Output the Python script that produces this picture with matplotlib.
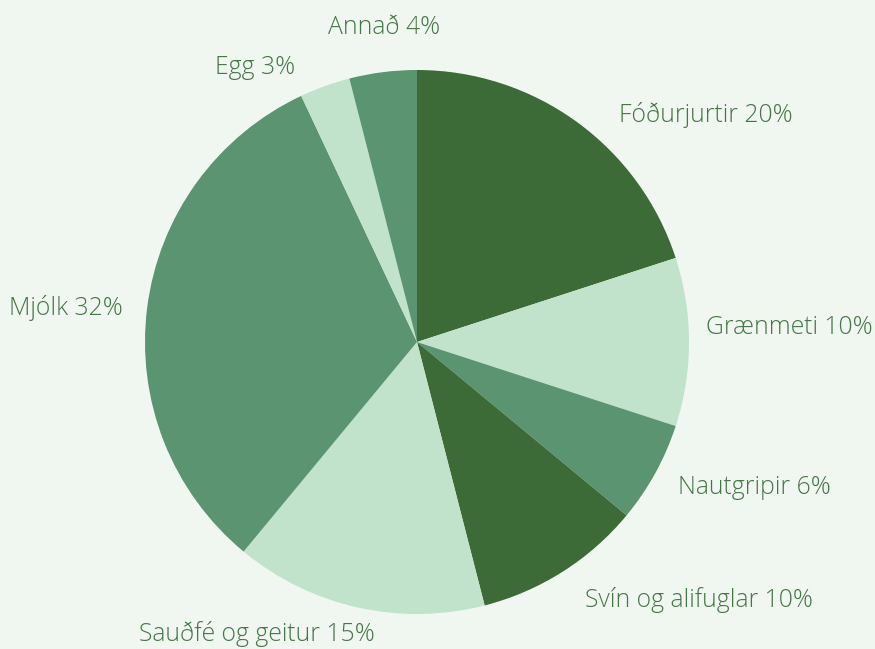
import matplotlib
matplotlib.use("Agg")
import matplotlib.pyplot as plt

labels = ["Fóðurjurtir", "Grænmeti", "Nautgripir", "Svín og alifuglar",
          "Sauðfé og geitur", "Mjólk", "Egg", "Annað"]
values = [20, 10, 6, 10, 15, 32, 3, 4]
colors = ["#3d6b38", "#c1e2cb", "#5a9470", "#3d6b38",
          "#c1e2cb", "#5a9470", "#c1e2cb", "#5a9470"]

# label anchors in image pixels (x, y from top, horizontal alignment)
label_pos = [(619, 115, "left"), (706, 328, "left"), (678, 488, "left"),
             (585, 600, "left"), (375, 634, "right"), (123, 308, "right"),
             (295, 67, "right"), (440, 28, "right")]

bg = "#f0f7f0"
text_color = "#467646"

W, H = 875, 649
cx, cy, r = 417, 342, 272

fig = plt.figure(figsize=(W / 100, H / 100), dpi=100, facecolor=bg)
# axes placed so that a unit pie has radius r px centred at (cx, cy)
xl, yl = 1.5, 1.15
ax = fig.add_axes([(cx - xl * r) / W, (H - cy - yl * r) / H,
                   2 * xl * r / W, 2 * yl * r / H])
ax.set_facecolor(bg)

wedges, _ = ax.pie(values, colors=colors, startangle=90, counterclock=False,
                   radius=1, wedgeprops={"linewidth": 0})

for lab, v, (px, py, ha) in zip(labels, values, label_pos):
    ax.text((px - cx) / r, (cy - py) / r, f"{lab} {v}%", ha=ha, va="center",
            color=text_color, fontsize=17.8, family="Open Sans",
            fontweight="light")

ax.set_xlim(-xl, xl)
ax.set_ylim(-yl, yl)
ax.set_aspect("equal")
ax.axis("off")

fig.savefig("out.png", dpi=100, facecolor=bg)
